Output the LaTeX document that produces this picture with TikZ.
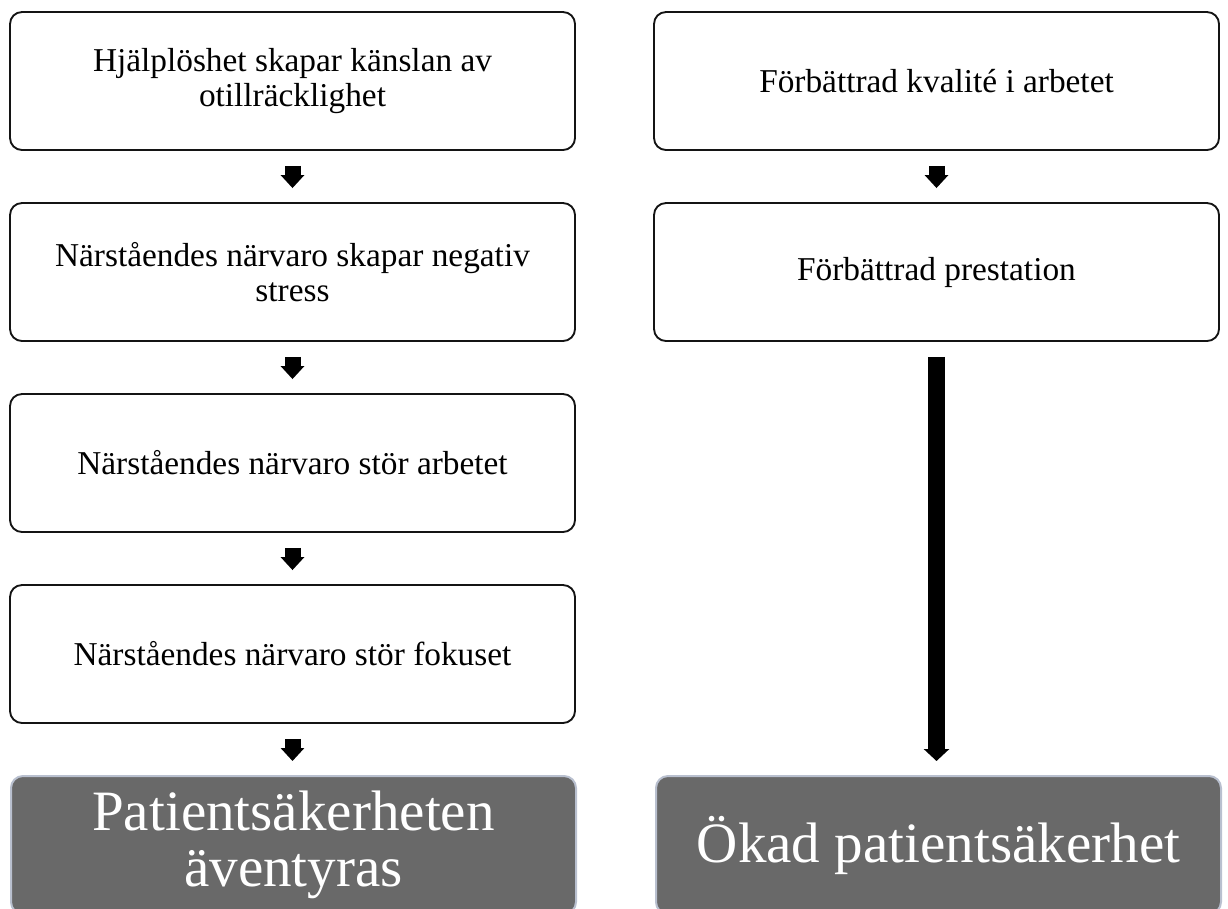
\documentclass[tikz,border=0pt]{standalone}
\usepackage{fontspec}
\setmainfont{Liberation Serif}
\usetikzlibrary{arrows.meta}

\definecolor{resultgray}{RGB}{105,105,105}
\definecolor{resultedge}{RGB}{185,192,207}

\tikzset{every picture/.style={line width=0.75pt}}
\tikzset{
  stepbox/.style={draw={rgb,255:red,20;green,20;blue,20}, line width=1.4pt, fill=white, rounded corners=9pt,
    minimum width=423.75pt, minimum height=103.5pt, align=center, inner sep=0pt,
    font=\fontsize{25}{26}\selectfont},
  resultbox/.style={draw=resultedge, line width=1.5pt, fill=resultgray, text=white, rounded corners=9pt,
    minimum width=423.75pt, minimum height=103.5pt, align=center, inner sep=0pt,
    font=\fontsize{42.8}{42}\selectfont},
  blockarrow/.style={line width=12pt, -{Triangle[width=17.25pt,length=9.75pt]}},
  longarrow/.style={line width=12.75pt, -{Triangle[width=18.75pt,length=9pt]}}
}

\begin{document}
\begin{tikzpicture}[x=0.75pt,y=0.75pt,yscale=-1,xscale=1]
\useasboundingbox (0,0) rectangle (1228,908);

% Text Node
\node [stepbox] (help) at (292.5,81) {Hjälplöshet skapar känslan av\\otillräcklighet};
% Text Node
\node [stepbox] (stress) at (292.5,272) {Närståendes närvaro skapar negativ\\stress};
% Text Node
\node [stepbox] (work) at (292.5,463) {Närståendes närvaro stör arbetet};
% Text Node
\node [stepbox] (focus) at (292.5,654) {Närståendes närvaro stör fokuset};
% Text Node
\node [resultbox] (risk) at (293.5,845) {Patientsäkerheten\\äventyras};
% Text Node
\node [stepbox] (quality) at (936.5,81) {Förbättrad kvalité i arbetet};
% Text Node
\node [stepbox] (perf) at (936.5,272) {Förbättrad prestation};
% Text Node
\node [resultbox] (safety) at (938.5,845) {Ökad patientsäkerhet};

% Connection
\draw [blockarrow] ([yshift=11.25pt]help.south) -- ([yshift=-10.5pt]stress.north);
% Connection
\draw [blockarrow] ([yshift=11.25pt]stress.south) -- ([yshift=-10.5pt]work.north);
% Connection
\draw [blockarrow] ([yshift=11.25pt]work.south) -- ([yshift=-10.5pt]focus.north);
% Connection
\draw [blockarrow] ([yshift=11.25pt]focus.south) -- ([yshift=-10.5pt]risk.north -| focus.south);
% Connection
\draw [blockarrow] ([yshift=11.25pt]quality.south) -- ([yshift=-10.5pt]perf.north);
% Connection
\draw [longarrow] ([yshift=11.25pt]perf.south) -- ([yshift=-10.5pt]safety.north -| perf.south);

\end{tikzpicture}
\end{document}
